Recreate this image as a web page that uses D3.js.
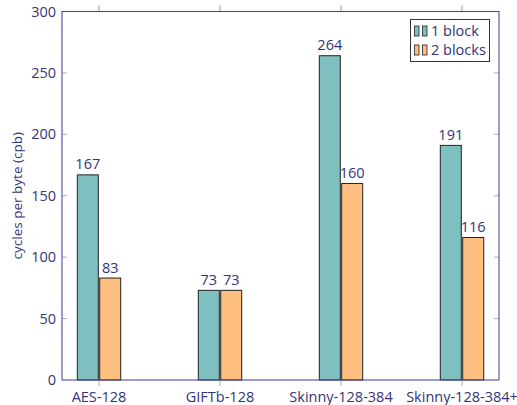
<!DOCTYPE html>
<html>
<head>
<meta charset="utf-8">
<script src="https://cdn.jsdelivr.net/npm/d3@7"></script>
<style>
  body { margin: 0; background: #fff; }
  svg { display: block; }
  text { font-family: "Open Sans", "DejaVu Sans", sans-serif; }
</style>
</head>
<body>
<svg id="chart" width="517" height="405"></svg>
<script>
// Throughput of each cipher, in cycles per byte
const categories = ["AES-128", "GIFTb-128", "Skinny-128-384", "Skinny-128-384+"];
const seriesNames = ["1 block", "2 blocks"];
const oneBlock = [167, 73, 264, 191];
const twoBlocks = [83, 73, 160, 116];
const yTicks = [0, 50, 100, 150, 200, 250, 300];

const colors = ["#80bfbf", "#ffbf80"];
const textColor = "#34347a";
const axisColor = "#4b4b9c";
const tickColor = "#9a9a9a";

const svg = d3.select("#chart");
const m = { left: 62, right: 499, top: 11.5, bottom: 380 };

const x = d3.scalePoint().domain(categories).range([99, 462]);
const y = d3.scaleLinear().domain([0, 300]).range([m.bottom, m.top]);
const series = [oneBlock, twoBlocks];
const barW = 21, shift = 11.2;

// y ticks (inside, both sides)
const yAxisL = d3.axisLeft(y).tickValues(yTicks).tickSize(0).tickPadding(6);
const gl = svg.append("g").attr("transform", `translate(${m.left},0)`).call(yAxisL);
gl.select(".domain").remove();
gl.selectAll("text").attr("fill", textColor).style("font-size", "14.5px")
  .style("font-family", "'Open Sans', sans-serif");

svg.append("g").selectAll("line.yl").data(yTicks.slice(1, -1)).join("line")
  .attr("x1", m.left).attr("x2", m.left + 5)
  .attr("y1", d => y(d)).attr("y2", d => y(d))
  .attr("stroke", tickColor).attr("stroke-width", 0.8);
svg.append("g").selectAll("line.yr").data(yTicks.slice(1, -1)).join("line")
  .attr("x1", m.right - 5).attr("x2", m.right)
  .attr("y1", d => y(d)).attr("y2", d => y(d))
  .attr("stroke", tickColor).attr("stroke-width", 0.8);

// category ticks (outside, top and bottom)
svg.append("g").selectAll("line.xb").data(categories).join("line")
  .attr("x1", d => x(d)).attr("x2", d => x(d))
  .attr("y1", m.bottom).attr("y2", m.bottom + 6)
  .attr("stroke", tickColor).attr("stroke-width", 0.8);
svg.append("g").selectAll("line.xt").data(categories).join("line")
  .attr("x1", d => x(d)).attr("x2", d => x(d))
  .attr("y1", m.top - 6).attr("y2", m.top)
  .attr("stroke", "#777").attr("stroke-width", 0.8);

// bars
series.forEach((vals, s) => {
  const off = s === 0 ? -shift : shift;
  svg.append("g").selectAll("rect").data(vals).join("rect")
    .attr("x", (d, i) => x(categories[i]) + off - barW / 2)
    .attr("y", d => y(d))
    .attr("width", barW)
    .attr("height", d => y(0) - y(d))
    .attr("fill", colors[s])
    .attr("stroke", "#222").attr("stroke-width", 1);
  svg.append("g").selectAll("text").data(vals).join("text")
    .attr("x", (d, i) => x(categories[i]) + off)
    .attr("y", d => y(d) - 5.5)
    .attr("text-anchor", "middle")
    .attr("fill", textColor)
    .style("font-size", "14.5px")
    .text(d => d);
});

// axis frame
svg.append("rect")
  .attr("x", m.left).attr("y", m.top)
  .attr("width", m.right - m.left).attr("height", m.bottom - m.top)
  .attr("fill", "none").attr("stroke", axisColor).attr("stroke-width", 1.1);

// category labels
svg.append("g").selectAll("text").data(categories).join("text")
  .attr("x", d => x(d)).attr("y", 402)
  .attr("text-anchor", "middle").attr("fill", textColor)
  .style("font-size", "14.5px")
  .text(d => d);

// y axis title
svg.append("text")
  .attr("transform", `translate(22,${(m.top + m.bottom) / 2}) rotate(-90)`)
  .attr("text-anchor", "middle").attr("fill", textColor)
  .style("font-size", "13.5px")
  .text("cycles per byte (cpb)");

// legend
const lg = svg.append("g");
lg.append("rect").attr("x", 410.5).attr("y", 19.5).attr("width", 79).attr("height", 42)
  .attr("fill", "#fff").attr("stroke", "#333").attr("stroke-width", 1);
seriesNames.forEach((name, s) => {
  const cy = 31 + s * 19;
  [414.5, 422.5].forEach(bx => {
    lg.append("rect").attr("x", bx).attr("y", cy - 5).attr("width", 4.5).attr("height", 10)
      .attr("fill", colors[s]).attr("stroke", "#222").attr("stroke-width", 0.8);
  });
  lg.append("text").attr("x", 431).attr("y", cy + 5)
    .attr("fill", textColor).style("font-size", "14.5px").text(name);
});
</script>
</body>
</html>
